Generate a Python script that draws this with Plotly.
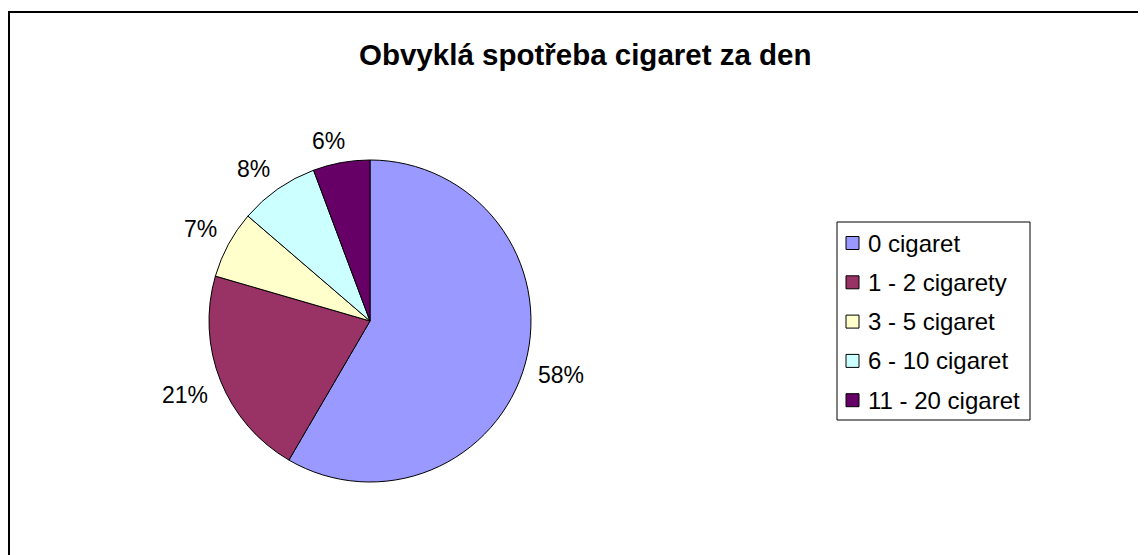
import math
import plotly.graph_objects as go

categories = ["0 cigaret", "1 - 2 cigarety", "3 - 5 cigaret", "6 - 10 cigaret", "11 - 20 cigaret"]
values = [58.4, 21.1, 6.8, 8.0, 5.7]
colors = ["#9999FF", "#993366", "#FFFFCC", "#CCFFFF", "#660066"]
title_text = "Obvyklá spotřeba cigaret za den"

W, H = 1146, 555
OFF = 8  # page body margin
FONT = "Liberation Sans, Arial, sans-serif"
LBL_SIZE = 23

def px(x):
    return (x - OFF) / W

def py(y):
    return 1 - (y - OFF) / H

cx, cy, r = 370, 321, 161
gap = 13

fig = go.Figure()
fig.add_trace(go.Pie(
    labels=categories,
    values=values,
    sort=False,
    direction="clockwise",
    rotation=0,
    marker=dict(colors=colors, line=dict(color="black", width=1)),
    textinfo="none",
    domain=dict(x=[px(cx - r), px(cx + r)], y=[py(cy + r), py(cy - r)]),
    showlegend=False,
    hoverinfo="skip",
))

shapes = []
annotations = []

def clip(v):
    return max(-1.0, min(1.0, v))

# percentage labels placed just outside the slice mid-angles (Excel-like best fit)
total = sum(values)
cum = 0.0
for v in values:
    mid = (cum + v / 2) / total * 2 * math.pi
    cum += v
    txt = f"{round(v / total * 100)}%"
    hw = 0.5 * LBL_SIZE * (0.556 * (len(txt) - 1) + 0.889)
    hh = 9
    sx, sy = math.sin(mid), -math.cos(mid)
    lx = cx + (r + gap) * sx + hw * clip(3.5 * sx)
    ly = cy + (r + gap) * sy + hh * clip(3.5 * sy)
    annotations.append(dict(text=txt, xref="paper", yref="paper",
                            x=px(lx), y=py(ly), xanchor="center", yanchor="middle",
                            showarrow=False, font=dict(family=FONT, size=LBL_SIZE, color="black")))

# outer chart border (extends past right/bottom edges)
shapes.append(dict(type="rect", xref="paper", yref="paper",
                   x0=px(9), x1=1.05, y0=-0.05, y1=py(12),
                   line=dict(color="black", width=2), fillcolor="rgba(0,0,0,0)"))
# title
annotations.append(dict(text="<b>" + title_text + "</b>", xref="paper", yref="paper",
                        x=px(585), y=py(54), xanchor="center", yanchor="middle",
                        showarrow=False, font=dict(family=FONT, size=29.5, color="black")))
# legend box
shapes.append(dict(type="rect", xref="paper", yref="paper",
                   x0=px(837), x1=px(1030), y0=py(420), y1=py(222),
                   line=dict(color="black", width=1), fillcolor="white"))
row0, step = 243, 39.3
for i, (lab, col) in enumerate(zip(categories, colors)):
    yc = row0 + i * step
    shapes.append(dict(type="rect", xref="paper", yref="paper",
                       x0=px(846), x1=px(859), y0=py(yc + 6.5), y1=py(yc - 6.5),
                       line=dict(color="black", width=1), fillcolor=col))
    annotations.append(dict(text=lab, xref="paper", yref="paper",
                            x=px(866), y=py(yc), xanchor="left", yanchor="middle",
                            showarrow=False, font=dict(family=FONT, size=24, color="black")))

fig.update_layout(
    width=W, height=H,
    margin=dict(l=0, r=0, t=0, b=0),
    paper_bgcolor="white", plot_bgcolor="white",
    shapes=shapes, annotations=annotations,
)
fig.write_html("out.html")
